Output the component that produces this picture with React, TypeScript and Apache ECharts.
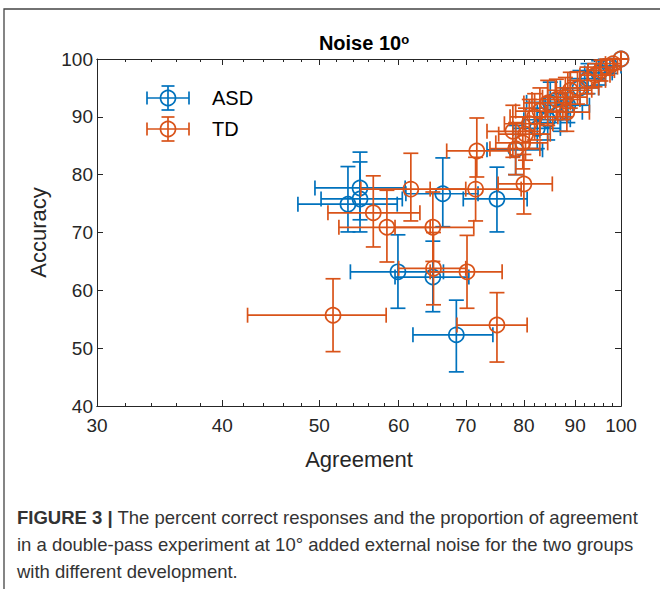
import React, { useEffect, useRef } from 'react';
import * as echarts from 'echarts';

const FONT = '"Liberation Sans", Arial, Helvetica, sans-serif';
const BLUE = '#0072BD';
const ORANGE = '#D95319';

const xTicks = [30, 40, 50, 60, 70, 80, 90, 100];
const xMinorTicks = [32, 34, 36, 38, 42, 44, 46, 48, 52, 54, 56, 58, 62, 64, 66, 68, 72, 74, 76, 78, 82, 84, 86, 88, 92, 94, 96, 98];
const yTicks = [40, 50, 60, 70, 80, 90, 100];

// ASD group
const asdAgreement = [53.4, 54.9, 54.9, 66.4, 75.2, 59.9, 64.9, 68.5, 78.5, 82.5, 84.5, 85.0, 87.0, 88.5, 91.0, 92.7, 95.0, 97.5, 100];
const asdAccuracy = [74.9, 77.7, 75.8, 76.7, 75.8, 63.2, 62.3, 52.3, 84.3, 88.0, 89.5, 92.5, 90.8, 92.0, 95.0, 96.6, 97.6, 98.8, 100];
const asdAgreementLow = [47.6, 49.5, 50.2, 61.0, 69.6, 53.7, 59.5, 62.0, 73.5, 78.0, 80.0, 80.5, 82.5, 84.0, 87.0, 89.0, 92.0, 95.0, 100];
const asdAgreementHigh = [59.8, 60.9, 60.5, 72.0, 80.6, 66.5, 70.5, 74.5, 83.5, 87.0, 89.0, 89.5, 91.5, 93.0, 95.0, 96.5, 98.0, 100, 100];
const asdAccuracyLow = [70.1, 72.2, 70.1, 71.0, 70.1, 56.9, 56.3, 45.9, 80.0, 84.5, 86.0, 89.0, 87.5, 89.0, 92.0, 94.0, 95.5, 97.5, 100];
const asdAccuracyHigh = [81.4, 83.9, 82.2, 82.9, 81.3, 69.6, 68.5, 58.3, 88.5, 91.5, 93.0, 96.0, 94.0, 95.0, 98.0, 99.2, 99.7, 100, 100];

// TD group
const tdAgreement = [51.6, 75.2, 70.2, 65.0, 56.6, 58.4, 64.9, 61.7, 71.6, 80.0, 71.8, 78.0, 78.5, 79.8, 80.3, 81.0, 82.0, 83.0, 84.5, 86.2, 88.3, 88.0, 89.0, 90.5, 92.5, 94.2, 95.5, 96.8, 98.2, 100];
const tdAccuracy = [55.7, 54.0, 63.2, 63.8, 73.4, 70.9, 70.9, 77.5, 77.5, 78.4, 84.1, 87.5, 84.5, 85.5, 87.0, 88.8, 90.0, 91.0, 92.4, 93.0, 90.8, 93.4, 94.6, 95.0, 96.3, 97.2, 98.0, 98.6, 99.2, 100];
const tdAgreementLow = [42.4, 68.6, 64.5, 60.0, 51.0, 52.3, 59.5, 55.0, 64.5, 75.4, 67.0, 73.5, 74.0, 75.0, 75.5, 76.5, 77.5, 78.5, 80.0, 81.5, 84.0, 83.5, 84.5, 86.0, 88.5, 91.0, 92.7, 94.5, 96.5, 100];
const tdAgreementHigh = [58.3, 80.6, 76.1, 70.0, 63.0, 64.5, 71.3, 70.0, 79.5, 85.4, 77.5, 83.0, 83.0, 84.5, 85.0, 85.5, 86.5, 87.5, 89.0, 91.0, 93.0, 92.5, 93.5, 95.0, 96.5, 97.5, 98.5, 99.2, 100, 100];
const tdAccuracyLow = [49.4, 47.6, 56.9, 57.5, 67.5, 64.9, 65.0, 72.0, 72.0, 73.2, 79.6, 83.0, 80.0, 81.0, 82.5, 84.5, 86.0, 87.0, 88.5, 89.5, 87.5, 90.0, 91.5, 92.2, 94.0, 95.2, 96.2, 97.2, 98.2, 100];
const tdAccuracyHigh = [62.0, 59.6, 69.5, 70.0, 79.8, 77.3, 77.0, 83.7, 83.0, 83.5, 89.8, 92.0, 89.0, 90.0, 91.5, 93.0, 94.0, 95.0, 96.3, 96.5, 94.2, 96.8, 97.7, 97.8, 98.6, 99.2, 99.8, 100, 100, 100];

const lg = (v: number) => Math.log10(v);

function buildData(ag: number[], ac: number[], agLo: number[], agHi: number[], acLo: number[], acHi: number[]) {
  return ag.map((a, i) => [lg(a), ac[i], lg(agLo[i]), lg(agHi[i]), acLo[i], acHi[i]]);
}

function makeRender(color: string) {
  return (params: any, api: any) => {
    const x = api.value(0);
    const y = api.value(1);
    const c = api.coord([x, y]);
    const xl = api.coord([api.value(2), y])[0];
    const xh = api.coord([api.value(3), y])[0];
    const yl = api.coord([x, api.value(4)])[1];
    const yh = api.coord([x, api.value(5)])[1];
    const cap = 7.5;
    const st = { stroke: color, lineWidth: 1.7, fill: 'none' };
    const ln = (x1: number, y1: number, x2: number, y2: number) => ({ type: 'line', shape: { x1, y1, x2, y2 }, style: st });
    return {
      type: 'group',
      children: [
        ln(xl, c[1], xh, c[1]),
        ln(xl, c[1] - cap, xl, c[1] + cap),
        ln(xh, c[1] - cap, xh, c[1] + cap),
        ln(c[0], yl, c[0], yh),
        ln(c[0] - cap, yl, c[0] + cap, yl),
        ln(c[0] - cap, yh, c[0] + cap, yh),
        { type: 'circle', shape: { cx: c[0], cy: c[1], r: 7.5 }, style: st },
      ],
    };
  };
}

function legendGlyph(cx: number, cy: number, color: string) {
  const st = { stroke: color, lineWidth: 1.7, fill: 'none' };
  const ln = (x1: number, y1: number, x2: number, y2: number) => ({ type: 'line', shape: { x1, y1, x2, y2 }, style: st });
  const hw = 21, hh = 12, cap = 6.5;
  return {
    type: 'group',
    children: [
      ln(cx - hw, cy, cx + hw, cy),
      ln(cx - hw, cy - cap, cx - hw, cy + cap),
      ln(cx + hw, cy - cap, cx + hw, cy + cap),
      ln(cx, cy - hh, cx, cy + hh),
      ln(cx - cap, cy - hh, cx + cap, cy - hh),
      ln(cx - cap, cy + hh, cx + cap, cy + hh),
      { type: 'circle', shape: { cx, cy, r: 7.5 }, style: st },
    ],
  };
}

const axisCommon = {
  axisLine: { lineStyle: { color: '#262626', width: 1 } },
  splitLine: { show: false },
};

export default function App() {
  const ref = useRef<HTMLDivElement>(null);
  useEffect(() => {
    const chart = echarts.init(ref.current!, null, { renderer: 'svg' });
    const xMin = lg(30);
    const xMax = lg(100);
    const majorX = xTicks.map(lg);
    const minorX = xMinorTicks.map(lg);
    const hiddenLabel = { show: false };
    const option: any = {
      animation: false,
      backgroundColor: '#fff',
      title: {
        text: 'Noise 10{s|o}',
        left: 359,
        top: 28,
        textAlign: 'center',
        textStyle: {
          fontFamily: FONT,
          fontSize: 20,
          fontWeight: 'bold',
          color: '#000',
          rich: { s: { fontFamily: FONT, fontSize: 13, fontWeight: 'bold', color: '#000', verticalAlign: 'top' } },
        },
      },
      grid: { left: 97, right: 39, top: 59, bottom: 183, containLabel: false, outerBoundsMode: 'none' },
      xAxis: [
        {
          type: 'value', position: 'bottom', min: xMin, max: xMax, ...axisCommon,
          name: 'Agreement', nameLocation: 'middle', nameGap: 42,
          nameTextStyle: { fontFamily: FONT, fontSize: 22, color: '#262626' },
          axisTick: { inside: true, length: 6, customValues: majorX, lineStyle: { color: '#262626' } },
          axisLabel: {
            customValues: majorX, margin: 10, fontFamily: FONT, fontSize: 19, color: '#262626',
            formatter: (v: number) => String(Math.round(Math.pow(10, v))),
          },
        },
        {
          type: 'value', position: 'bottom', min: xMin, max: xMax, ...axisCommon,
          axisTick: { inside: true, length: 3, customValues: minorX, lineStyle: { color: '#262626' } },
          axisLabel: hiddenLabel,
        },
        {
          type: 'value', position: 'top', min: xMin, max: xMax, ...axisCommon,
          axisTick: { inside: true, length: 6, customValues: majorX, lineStyle: { color: '#262626' } },
          axisLabel: hiddenLabel,
        },
        {
          type: 'value', position: 'top', min: xMin, max: xMax, ...axisCommon,
          axisTick: { inside: true, length: 3, customValues: minorX, lineStyle: { color: '#262626' } },
          axisLabel: hiddenLabel,
        },
      ],
      yAxis: [
        {
          type: 'value', position: 'left', min: 40, max: 100, interval: 10, ...axisCommon,
          name: 'Accuracy', nameLocation: 'middle', nameGap: 48,
          nameTextStyle: { fontFamily: FONT, fontSize: 22, color: '#262626' },
          axisTick: { inside: true, length: 6, lineStyle: { color: '#262626' } },
          axisLabel: { customValues: yTicks, margin: 4, fontFamily: FONT, fontSize: 19, color: '#262626' },
        },
        {
          type: 'value', position: 'right', min: 40, max: 100, interval: 10, ...axisCommon,
          axisTick: { inside: true, length: 6, lineStyle: { color: '#262626' } },
          axisLabel: hiddenLabel,
        },
      ],
      series: [
        {
          type: 'custom', name: 'ASD', xAxisIndex: 0, yAxisIndex: 0,
          renderItem: makeRender(BLUE), encode: { x: 0, y: 1 }, clip: false,
          data: buildData(asdAgreement, asdAccuracy, asdAgreementLow, asdAgreementHigh, asdAccuracyLow, asdAccuracyHigh),
        },
        {
          type: 'custom', name: 'TD', xAxisIndex: 0, yAxisIndex: 0,
          renderItem: makeRender(ORANGE), encode: { x: 0, y: 1 }, clip: false,
          data: buildData(tdAgreement, tdAccuracy, tdAgreementLow, tdAgreementHigh, tdAccuracyLow, tdAccuracyHigh),
        },
      ],
      graphic: [
        { type: 'rect', silent: true, shape: { x: 4, y: 9, width: 700, height: 640 }, style: { fill: 'none', stroke: '#444', lineWidth: 1.3 } },
        legendGlyph(168, 98, BLUE),
        legendGlyph(168, 129, ORANGE),
        { type: 'text', x: 212, y: 98, style: { text: 'ASD', font: `20px ${FONT}`, fill: '#000', textVerticalAlign: 'middle', verticalAlign: 'middle' } },
        { type: 'text', x: 212, y: 129, style: { text: 'TD', font: `20px ${FONT}`, fill: '#000', textVerticalAlign: 'middle', verticalAlign: 'middle' } },
        {
          type: 'text', x: 17, y: 517,
          style: {
            text: '{b|FIGURE 3 |} The percent correct responses and the proportion of agreement',
            font: `18.5px ${FONT}`, fill: '#333', verticalAlign: 'middle',
            rich: { b: { fontFamily: FONT, fontSize: 18.5, fontWeight: 'bold', fill: '#333' } },
          },
        },
        {
          type: 'text', x: 17, y: 544,
          style: { text: 'in a double-pass experiment at 10° added external noise for the two groups', font: `18.5px ${FONT}`, fill: '#333', verticalAlign: 'middle' },
        },
        {
          type: 'text', x: 17, y: 571,
          style: { text: 'with different development.', font: `18.5px ${FONT}`, fill: '#333', verticalAlign: 'middle' },
        },
      ],
    };
    chart.setOption(option);
    return () => chart.dispose();
  }, []);
  return <div ref={ref} style={{ position: 'absolute', left: 0, top: 0, width: 660, height: 589, background: '#fff' }} />;
}
